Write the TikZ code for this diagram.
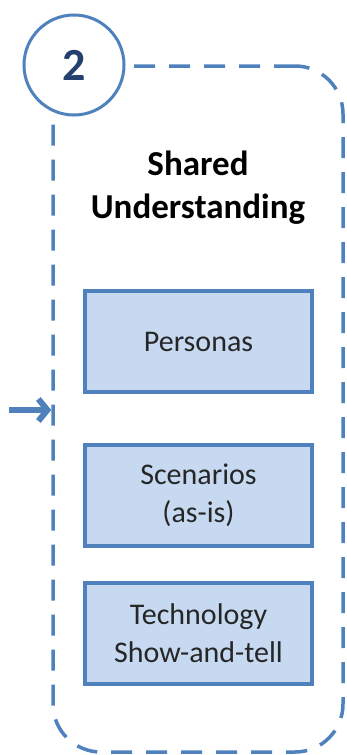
\documentclass[tikz,border=0pt]{standalone}
\usepackage{fontspec}
\setmainfont{Carlito}
\usetikzlibrary{arrows.meta}
\definecolor{frameBlue}{HTML}{4F81BD}
\definecolor{boxFill}{HTML}{C6D9F1}
\definecolor{digitBlue}{HTML}{24406E}
\tikzstyle{stageFrame}=[shape = rectangle, draw = frameBlue, line width = 3.5pt, dash pattern = on 21pt off 14pt, rounded corners = 48pt, minimum width = 290pt, minimum height = 686pt, inner sep = 0pt]
\tikzstyle{stageBadge}=[shape = circle, draw = frameBlue, fill = white, line width = 3pt, minimum size = 100pt, inner sep = 0pt, text = digitBlue]
\tikzstyle{activityBox}=[shape = rectangle, draw = frameBlue, fill = boxFill, line width = 4pt, minimum width = 227pt, minimum height = 101pt, align = center, text = black!85, font = \fontsize{30}{38}\selectfont]

\begin{document}
\begin{tikzpicture}[x = 1pt, y = -1pt]
\tikzstyle{titleStyle}=[align = center, font = \fontsize{35}{43}\selectfont\bfseries]
\tikzstyle{inArrow}=[draw = frameBlue, line width = 6pt, -{Straight Barb[length = 9pt, width = 22pt]}]
\useasboundingbox (0,0) rectangle (347,755);
\node[stageFrame] (frame) at (198,409) {};
\node[stageBadge] (badge) at (74,65) {\fontsize{46}{46}\selectfont\bfseries 2};
\node[titleStyle] (title) at (198,188) {Shared\\Understanding};
\node[activityBox] (personas) at (198.5,341.5) {Personas};
\node[activityBox] (scenarios) at (198.5,495.5) {Scenarios\\(as-is)};
\node[activityBox] (tech) at (198.5,633.5) {Technology\\Show-and-tell};
\coordinate (entry) at (9,410);
\draw[inArrow] (entry) -- (frame.west |- entry);
\end{tikzpicture}
\end{document}
